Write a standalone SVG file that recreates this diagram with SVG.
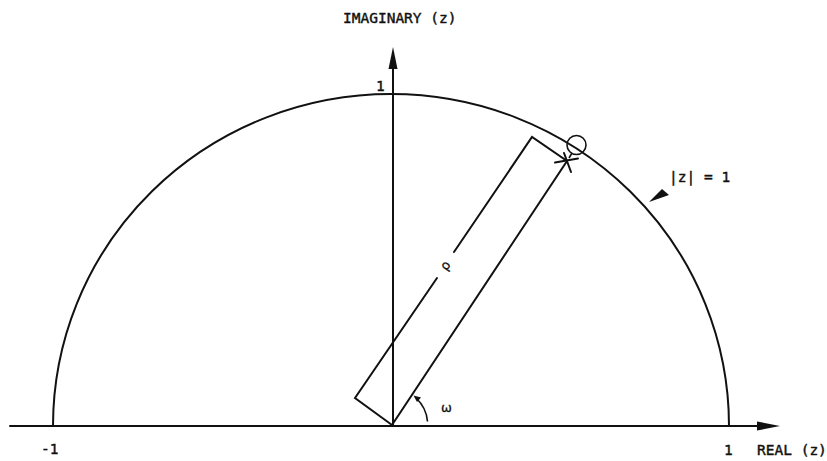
<svg xmlns="http://www.w3.org/2000/svg" width="827" height="461" viewBox="0 0 827 461">
<style>
.ln{fill:none;stroke:#111;stroke-width:2;stroke-linecap:round;stroke-linejoin:miter}
.thin{fill:none;stroke:#111;stroke-width:1.6}
.hd{fill:#111;stroke:none}
.tx{font-family:"DejaVu Sans Mono","Liberation Mono",monospace;font-size:14.5px;fill:#111;stroke:#111;stroke-width:0.4}
.gk{font-family:"DejaVu Sans","Liberation Sans",sans-serif;font-size:13px;fill:#111;stroke:#111;stroke-width:0.3}
</style>
<rect width="827" height="461" fill="#fff"/>
<g id="connectors">
  <g id="real-axis">
    <line class="ln" x1="10" y1="426" x2="760" y2="426"/>
    <polygon class="hd" points="780,426 757,421.5 757,430.5"/>
  </g>
  <g id="imag-axis">
    <line class="ln" x1="393" y1="426" x2="393" y2="66"/>
    <polygon class="hd" points="393,47 388.5,69 397.5,69"/>
  </g>
  <g id="unit-pointer">
    <polygon class="hd" points="649,202 662,189 669,195"/>
  </g>
  <g id="omega-arc">
    <path class="thin" d="M416,398 A36,36 0 0 1 427.5,421.5"/>
    <polygon class="hd" points="413.5,395.5 421,397.5 417,402"/>
  </g>
</g>
<g id="unit-circle">
  <path class="ln" d="M53,426 A338,332 0 0 1 729,426"/>
</g>
<g id="rectangle">
  <path class="ln" d="M392,425 L355,398 L437,278"/>
  <path class="ln" d="M454,252 L532,137 L567,161 L392,425"/>
  <line class="ln" x1="555" y1="162.5" x2="578" y2="158.5"/>
  <line class="ln" x1="564" y1="153" x2="571" y2="172"/>
  <line class="thin" x1="572" y1="153" x2="569" y2="158"/>
</g>
<g id="root-marker">
  <circle class="thin" cx="576.5" cy="145" r="9.5"/>
</g>
<g id="labels">
  <text class="tx" x="343" y="23">IMAGINARY (z)</text>
  <text class="tx" x="376" y="91">1</text>
  <text class="tx" x="41" y="454">-1</text>
  <text class="tx" x="724" y="455">1</text>
  <text class="tx" x="757" y="455">REAL (z)</text>
  <text class="tx" x="669" y="182">|z| = 1</text>
  <text class="gk" x="441" y="412">ω</text>
  <text class="gk" x="446" y="266" text-anchor="middle" dominant-baseline="middle" transform="rotate(-56 446 266)">ρ</text>
</g>
</svg>
